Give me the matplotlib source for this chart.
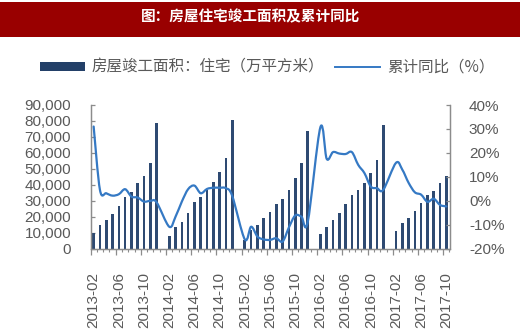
import numpy as np
import matplotlib
matplotlib.use("Agg")
import matplotlib.pyplot as plt
from matplotlib.path import Path
from matplotlib.patches import PathPatch, Patch, Rectangle
from matplotlib.lines import Line2D
from matplotlib.ticker import FuncFormatter, FixedLocator

# ---------------- data ----------------
years = [2013, 2014, 2015, 2016, 2017]
categories = [f"{y}-{m:02d}" for y in years for m in range(1, 13)]
categories = categories[1:categories.index("2017-10") + 1]   # 2013-02 .. 2017-10

# 房屋竣工面积：住宅（万平方米）, cumulative; January has no data
area = [
    10000, 14700, 17700, 21400, 26600, 32100, 35600, 41300, 45700, 53400, 78700,
    None, 8000, 13500, 16800, 22100, 29000, 32100, 36500, 41900, 47700, 56600, 80900,
    None, 5500, 11600, 14800, 18900, 23200, 27600, 31000, 36700, 44400, 53400, 73800,
    None, 9300, 13700, 17900, 22400, 27900, 33500, 36700, 40900, 47500, 55300, 77200,
    None, 11200, 15800, 18900, 23500, 28700, 33500, 36200, 40900, 45600,
]
# 累计同比（%）
yoy = [
    31.0, 4.5, 3.1, 2.1, 2.7, 4.8, 1.7, 1.3, -0.4, -0.1, -0.7,
    None, -10.9, -6.7, -0.4, 4.8, 6.3, 3.1, 4.9, 5.4, 5.4, 5.2, 2.0,
    None, -16.2, -10.9, -15.0, -16.2, -16.4, -15.7, -17.1, -11.2, -6.2, -6.7, -8.8,
    None, 30.7, 17.5, 20.3, 19.7, 19.5, 20.3, 15.0, 11.5, 5.9, 5.2, 4.6,
    None, 15.8, 13.0, 7.5, 3.5, 2.5, -0.5, 0.8, -1.8, -2.4,
]
tick_labels = categories[::4]

title = "图：房屋住宅竣工面积及累计同比"
bar_label = "房屋竣工面积：住宅（万平方米）"
line_label = "累计同比（%）"

# ---------------- style ----------------
BAR_C = "#2E4A72"
LINE_C = "#3579C4"
AX_C = "#8C8C8C"
TXT_C = "#595959"
plt.rcParams["font.family"] = ["Liberation Sans", "DejaVu Sans"]
CJK = ["Noto Sans CJK SC", "DejaVu Sans"]

W, H = 520, 333
fig = plt.figure(figsize=(W / 100, H / 100), dpi=100)
fig.patch.set_facecolor("white")

# title band
fig.add_artist(Rectangle((0, 1 - 37 / H), 1, 35 / H, transform=fig.transFigure,
                         facecolor="#990000", edgecolor="none"))
fig.text(251 / W, 1 - 16 / H, title, color="white", fontsize=10.5, fontweight="bold",
         ha="center", va="center", family=CJK)

left, right, bottom, top = 90.5 / W, 449.5 / W, 1 - 248.5 / H, 1 - 105 / H
ax = fig.add_axes([left, bottom, right - left, top - bottom])
ax2 = ax.twinx()

x = np.arange(len(categories))
area_arr = np.array([np.nan if v is None else v for v in area], dtype=float)
ax.bar(x, area_arr, width=0.42, color=BAR_C, zorder=2)
ax.set_xlim(-0.5, len(categories) - 0.5)
ax.set_ylim(0, 90000)
ax.yaxis.set_major_locator(FixedLocator(np.arange(0, 90001, 10000)))
ax.yaxis.set_major_formatter(FuncFormatter(lambda v, p: f"{int(v):,}"))

# smoothed line (Bezier through the data points, like the original's smoothed line)
pts = np.array([(xi, v) for xi, v in zip(x, yoy) if v is not None], dtype=float)
verts, codes = [pts[0]], [Path.MOVETO]
n = len(pts)
for i in range(n - 1):
    p0 = pts[i - 1] if i > 0 else pts[i]
    p1, p2 = pts[i], pts[i + 1]
    p3 = pts[i + 2] if i + 2 < n else pts[i + 1]
    verts += [p1 + (p2 - p0) / 6, p2 - (p3 - p1) / 6, p2]
    codes += [Path.CURVE4] * 3
ax2.add_patch(PathPatch(Path(verts, codes), facecolor="none", edgecolor=LINE_C,
                        linewidth=1.6, capstyle="round", joinstyle="round", zorder=3))
ax2.set_ylim(-20, 40)
ax2.yaxis.set_major_locator(FixedLocator(np.arange(-20, 41, 10)))
ax2.yaxis.set_major_formatter(FuncFormatter(lambda v, p: f"{int(round(v))}%"))

# spines
for a in (ax, ax2):
    a.spines["top"].set_visible(False)
    for s in ("left", "right", "bottom"):
        a.spines[s].set_color(AX_C)
        a.spines[s].set_linewidth(0.9)
ax.tick_params(axis="y", direction="in", length=3, width=0.9, color=AX_C,
               labelsize=11, labelcolor=TXT_C, pad=14)
ax2.tick_params(axis="y", direction="in", length=3, width=0.9, color=AX_C,
                labelsize=11, labelcolor=TXT_C, pad=14)

# x axis: small ticks at every category boundary, labels every 4 months
ax.set_xticks(np.arange(-0.5, len(categories), 1.0), minor=True)
ax.set_xticks(np.arange(-0.5, len(categories), 4.0))
ax.set_xticklabels([])
ax.tick_params(axis="x", which="minor", direction="out", length=2, width=0.8, color=AX_C)
ax.tick_params(axis="x", which="major", direction="out", length=4.5, width=0.9, color=AX_C)
sec = ax.secondary_xaxis("bottom")
sec.spines["bottom"].set_visible(False)
sec.set_xticks(x[::4])
sec.set_xticklabels(tick_labels, rotation=90)
sec.tick_params(axis="x", length=0, labelsize=11, labelcolor=TXT_C, pad=17)

# legend
handles = [Patch(facecolor="#234068", edgecolor="none"),
           Line2D([0], [0], color=LINE_C, linewidth=1.4)]
fig.legend(handles, [bar_label, line_label], loc="center", ncol=2,
           bbox_to_anchor=(267 / W, 1 - 67.5 / H), frameon=False,
           prop={"family": CJK, "size": 11.2}, labelcolor=TXT_C,
           handlelength=2.9, handleheight=0.45, handletextpad=0.45, columnspacing=0.7)

fig.savefig("out.png", dpi=100)
